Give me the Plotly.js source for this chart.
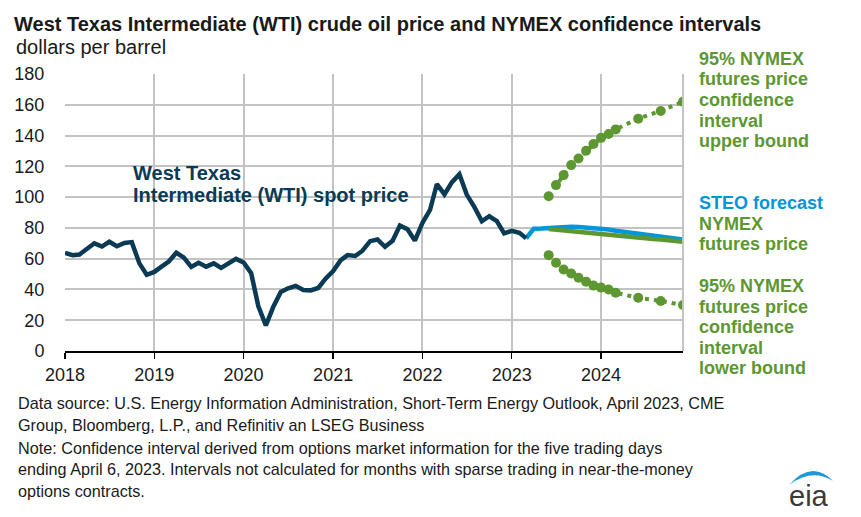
<!DOCTYPE html>
<html>
<head>
<meta charset="utf-8">
<script src="https://cdn.plot.ly/plotly-3.0.1.min.js"></script>
<style>
html,body{margin:0;padding:0;background:#fff;}
#chart{width:861px;height:517px;}
</style>
</head>
<body>
<div id="chart"></div>
<script>
// ---- Data (dollars per barrel, monthly) ----
var wtiStart = '2018-01';
var wtiSpot = [
  63.70, 62.23, 62.73, 66.25, 69.98, 67.87, 70.98, 68.06, 70.23, 70.75, 56.96, 49.52,
  51.38, 54.95, 58.15, 63.86, 60.83, 54.66, 57.35, 54.81, 56.95, 53.96, 57.03, 59.88,
  57.52, 50.54, 29.21, 16.55, 28.56, 38.31, 40.71, 42.34, 39.63, 39.40, 40.94, 47.02,
  52.00, 59.04, 62.33, 61.72, 65.17, 71.38, 72.49, 67.73, 71.65, 81.48, 79.15, 71.71,
  83.22, 91.64, 108.50, 101.78, 109.55, 114.84, 101.62, 93.67, 84.26, 87.55, 84.37, 76.44,
  78.12, 76.83, 73.28
];
var steoStart = '2023-03';
var steoForecast = [
  73.28, 79.5, 79.6, 80.0, 80.5, 80.8, 80.8, 80.6, 80.3, 80.0,
  79.4, 79.0, 78.2, 77.6, 77.1, 76.6, 75.8, 75.2, 74.6, 73.9, 73.2, 72.5
];
var nymexStart = '2023-06';
var nymexFutures = [
  79.3, 78.8, 78.3, 77.8, 77.3, 76.9, 76.4,
  75.9, 75.5, 75.0, 74.6, 74.1, 73.7, 73.3, 72.8, 72.4, 71.9, 71.5, 71.0
];
var ciUpper = [
  100.6, 107.8, 114.3, 120.8, 125.1, 130.1, 134.5,
  138.5, 141.0, 144.0, null, null, 151.0, null, null, 156.0, null, null, 162.0
];
var ciLower = [
  62.3, 57.3, 53.0, 50.4, 47.6, 45.0, 42.5,
  41.2, 40.0, 37.8, null, null, 34.6, null, null, 32.5, null, null, 29.9
];
var yearTicks = ['2018','2019','2020','2021','2022','2023','2024'];

// ---- helpers ----
function months(start, n){
  var p = start.split('-'); var y = +p[0], m = +p[1];
  var out = [];
  for (var i=0;i<n;i++){
    out.push(y + '-' + (m<10?'0':'') + m + '-01');
    m++; if (m>12){m=1;y++;}
  }
  return out;
}
// pixel -> paper conversion (plot area: x 65..683, y 74..351)
var L=65, R=683, T=74, B=351;
function px(x){return (x-L)/(R-L);}
function py(y){return (B-y)/(B-T);}

var navy='#0b3a55', blue='#0096d7', green='#5d9732', txt='#1a1a1a', grid='#c3c3c3';
var FONT='Arial, "Liberation Sans", sans-serif';

var traces = [
  {x: months(steoStart, steoForecast.length), y: steoForecast, type:'scatter', mode:'lines',
   line:{color:blue, width:4.5}},
  {x: months(wtiStart, wtiSpot.length), y: wtiSpot, type:'scatter', mode:'lines',
   line:{color:navy, width:4.5}},
  {x: months(nymexStart, nymexFutures.length), y: nymexFutures, type:'scatter', mode:'lines',
   line:{color:green, width:4.5}},
  {x: months(nymexStart, ciUpper.length), y: ciUpper, type:'scatter', mode:'lines+markers',
   connectgaps:true, line:{color:green, width:4, dash:'4px,5px'}, marker:{color:green, size:10}},
  {x: months(nymexStart, ciLower.length), y: ciLower, type:'scatter', mode:'lines+markers',
   connectgaps:true, line:{color:green, width:4, dash:'4px,5px'}, marker:{color:green, size:10}}
];

function ann(text, x, y, size, color, bold){
  return {text: bold?('<b>'+text+'</b>'):text, xref:'paper', yref:'paper', x:px(x), y:py(y),
    xanchor:'left', yanchor:'middle', showarrow:false, align:'left',
    font:{family:FONT, size:size, color:color}};
}
var annotations = [];
annotations.push(ann('dollars per barrel', 14, 47, 20, txt, false));
annotations.push(ann('West Texas', 131, 173, 20, navy, true));
annotations.push(ann('Intermediate (WTI) spot price', 131, 195, 20, navy, true));
var up = ['95% NYMEX','futures price','confidence','interval','upper bound'];
var upY = [59, 79.5, 100, 120.5, 141];
up.forEach(function(s,i){annotations.push(ann(s, 697, upY[i], 18, green, true));});
annotations.push(ann('STEO forecast', 697, 203, 18, blue, true));
annotations.push(ann('NYMEX', 697, 223.5, 18, green, true));
annotations.push(ann('futures price', 697, 244, 18, green, true));
var lo = ['95% NYMEX','futures price','confidence','interval','lower bound'];
var loY = [286, 306.5, 327, 347.5, 368];
lo.forEach(function(s,i){annotations.push(ann(s, 697, loY[i], 18, green, true));});
var foot = [
  'Data source: U.S. Energy Information Administration, Short-Term Energy Outlook, April 2023, CME',
  'Group, Bloomberg, L.P., and Refinitiv an LSEG Business',
  'Note: Confidence interval derived from options market information for the five trading days',
  'ending April 6, 2023. Intervals not calculated for months with sparse trading in near-the-money',
  'options contracts.'
];
var footY = [403, 424.5, 448, 469.5, 491];
foot.forEach(function(s,i){annotations.push(ann(s, 16, footY[i], 16.2, txt, false));});
// eia logo text
annotations.push({text:'eia', xref:'paper', yref:'paper', x:px(809), y:py(496), xanchor:'center', yanchor:'middle',
  showarrow:false, font:{family:FONT, size:29, color:'#3a3a3a'}});

var shapes = [
  {type:'line', xref:'paper', yref:'paper', x0:1, x1:1, y0:0, y1:1, line:{color:grid, width:2}},
  {type:'path', xref:'paper', yref:'paper',
   path:'M '+px(789)+','+py(485)+' Q '+px(812)+','+py(459)+' '+px(833)+','+py(481)+' Q '+px(812)+','+py(468)+' '+px(789)+','+py(485)+' Z',
   fillcolor:'#1a9ad6', line:{width:0}}
];

var layout = {
  width:861, height:517,
  margin:{l:L, r:861-R, t:T, b:517-B, pad:0},
  paper_bgcolor:'#fff', plot_bgcolor:'#fff',
  showlegend:false,
  title:{text:'<b>West Texas Intermediate (WTI) crude oil price and NYMEX confidence intervals</b>',
    x:14/861, xref:'container', xanchor:'left', y:1-24/517, yref:'container', yanchor:'middle',
    font:{family:FONT, size:20, color:txt}},
  xaxis:{type:'date', range:['2018-01-01','2024-12-01'],
    tickvals: yearTicks.map(function(y){return y+'-01-01';}), ticktext: yearTicks,
    showgrid:true, gridcolor:grid, gridwidth:2,
    showline:true, linecolor:'#000', linewidth:2,
    ticks:'outside', ticklen:6, tickwidth:1.5, tickcolor:'#000',
    tickfont:{family:FONT, size:18, color:txt}, zeroline:false, fixedrange:true},
  yaxis:{range:[0,180], dtick:20, tick0:0,
    showgrid:true, gridcolor:grid, gridwidth:2, zeroline:false, showline:false,
    ticks:'outside', ticklen:16, tickcolor:'rgba(0,0,0,0)',
    tickfont:{family:FONT, size:18, color:txt}, fixedrange:true},
  annotations: annotations,
  shapes: shapes
};

Plotly.newPlot('chart', traces, layout, {staticPlot:true, displayModeBar:false});
</script>
</body>
</html>
